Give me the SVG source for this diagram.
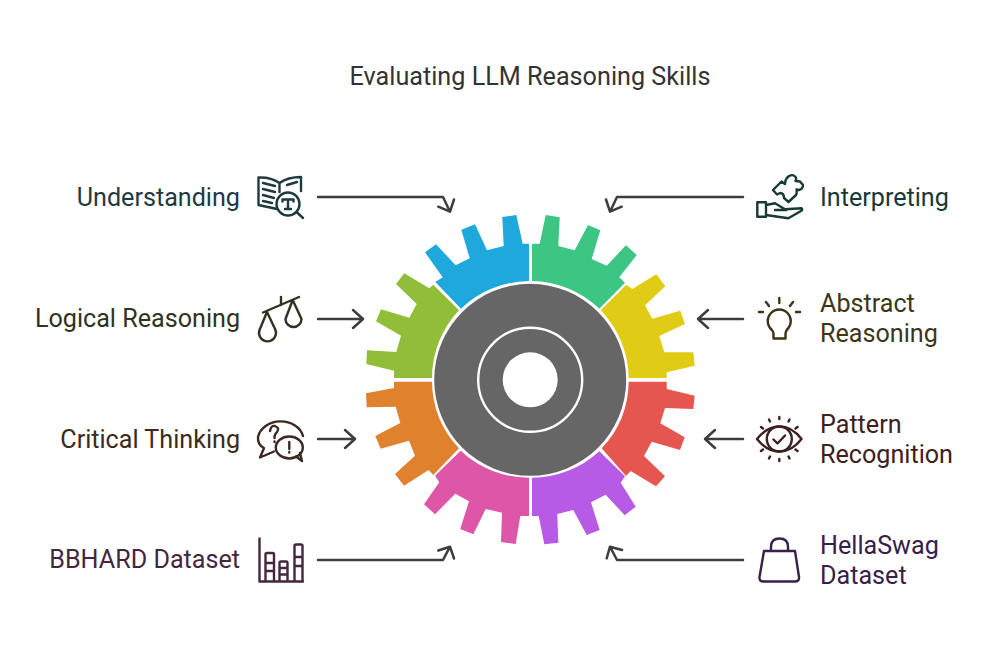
<svg xmlns="http://www.w3.org/2000/svg" width="1000" height="652" viewBox="0 0 1000 652">
<style>
text{font-family:Roboto,"Liberation Sans",sans-serif;font-size:25.15px}
.end{text-anchor:end}
.title{font-size:25.2px;fill:#333;text-anchor:middle}
.conn{fill:none;stroke:#3d3d3d;stroke-width:2.5;stroke-linecap:round;stroke-linejoin:round}
.i{fill:none;stroke-width:2.4;stroke-linecap:round;stroke-linejoin:round}
</style>
<rect width="1000" height="652" fill="#fff"/>
<text id="title" class="title" x="530" y="85">Evaluating LLM Reasoning Skills</text>
<g id="gear">
<path id="seg-understanding" fill="#1fa8dc" d="M529 281V243.7H522.7L516.3 215L502.3 217L503.7 246L487 250.3L475 224.3L461.3 229.7L469.7 258.3L455.7 265.3L436 244.3L425 252.3L442.7 277.3L435.3 282L461 308.7A99 99 0 0 1 529 281Z"/>
<path id="seg-interpreting" fill="#3cc583" d="M532 281V243.7H539.7L545.7 215L559.7 217.3L558.3 246L574.7 250.3L588 225L600.3 230.3L591.7 259L606.7 265.7L626 245.3L636.7 255L619.3 277.3L625 282.7L599.3 308.7A99 99 0 0 0 532 281Z"/>
<path id="seg-abstract" fill="#e0cb15" d="M600.7 310.3L626.3 284.7L632.3 289L656.3 274.3L665.3 286.3L645 305.3L652.3 318.7L680.3 310.7L685 324L659.3 336L664.3 352.3L693.3 352.3L694.7 365.7L666.7 372.3V378H628.7A99 99 0 0 0 600.7 310.3Z"/>
<path id="seg-pattern" fill="#e65650" d="M628.7 381.7H666.7V389L694.7 395.7L693.3 409L665 408L660.3 423.3L684.7 437.3L680 450L651.7 441.7L644 456L665 476.3L656 486.3L630.7 471L626 476L601.7 448.3A99 99 0 0 0 628.7 381.7Z"/>
<path id="seg-hellaswag" fill="#b75ae5" d="M599.3 451.3L625 476.3L620.7 482.7L635.7 506.7L624.7 515.3L605.7 494.7L591 502.3L599.7 530L586.7 535L573.3 510L557.3 514L558.3 542.7L544.3 544.3L538.7 516H532V477.7A99 99 0 0 0 599.3 451.3Z"/>
<path id="seg-bbhard" fill="#de56a8" d="M529 477.7V516H520.3L515.7 544L501 542L502 512.7L485.7 509L473.3 534.3L460.3 529L469 501.3L455.3 493.7L435 514.3L424 504.3L439.3 482.3L435 475.7L460.7 450.7A99 99 0 0 0 529 477.7Z"/>
<path id="seg-critical" fill="#e0812e" d="M459 448.3L433.3 475L428.7 470L404 485.7L395 474L415 455.7L409 440.7L380.7 448.7L375.3 436L400.3 423L395.7 406.7L366.7 407.3L366 393.3L394 388V381.7H432A99 99 0 0 0 459 448.3Z"/>
<path id="seg-logical" fill="#92bd39" d="M432 378H394V370.7L366.3 364L367 350.3L396.3 352L401 335.7L376 321.3L381 309.3L409.3 317.7L416.7 304L396 284L404.3 273.3L429.3 288.3L433.3 284.7L459 310.3A99 99 0 0 0 432 378Z"/>
<circle id="hub" cx="530.2" cy="379.8" r="96" fill="#666"/>
<circle cx="530.2" cy="379.8" r="52" fill="none" stroke="#fff" stroke-width="2.4"/>
<circle cx="530.2" cy="379.8" r="27.5" fill="#fff"/>
</g>
<g id="connectors" class="conn">
<path d="M318 197H443L450 211.700M438.300 206.700L450 211.700L454 199.500"/>
<path d="M318 319H363M353 310L363 319L353 328"/>
<path d="M318 439H355M345 430L355 439L345 448"/>
<path d="M318 560H443L450 546.700M438.300 550.500L450 546.700L454 558.500"/>
<path d="M743 197H617L610 211.700M621.700 206.700L610 211.700L606 199.500"/>
<path d="M743 319H698M708 310L698 319L708 328"/>
<path d="M743 439H705M715 430L705 439L715 448"/>
<path d="M743 560H617L610 546.700M622 550L610 546.700L606.700 558.300"/>
</g>
<g id="node-understanding">
<text class="end" x="240" y="206" fill="#1f3a3f">Understanding</text>
<g class="i" stroke="#1f3a3f"><path d="M277 209L258.500 205V177.500Q271 177 279.500 183Q288 177 301 177V191M279.500 183V192M263 183L275 186M263 189L275 192M263 195L274 198M263 201L272 203M287 185L297 182"/><circle cx="288" cy="204" r="11.500"/><path d="M296.500 212L303 218M282.500 199.500H293.500M282.500 201.500V199.500M293.500 201.500V199.500M288 199.500V209M285 209H291"/></g>
</g>
<g id="node-logical">
<text class="end" x="240" y="327" fill="#2f3320">Logical Reasoning</text>
<g class="i" stroke="#2f3320"><path d="M263 312.500L299 297M281 297V305M267 312L259.500 330A8.500 8.500 0 1 0 275.500 330ZM292.700 300L285.500 319A8 8 0 1 0 301.500 319Z"/></g>
</g>
<g id="node-critical">
<text class="end" x="240" y="448" fill="#3b2a20">Critical Thinking</text>
<g class="i" stroke="#3b2a20"><path d="M303 436A23 19 0 0 0 258 437Q257.500 445 264 448L260 457.500L274 451.500"/><ellipse cx="289.300" cy="447.500" rx="13.500" ry="11"/><path d="M296 456.500L302 461L300 453M270 431Q271 425 275 426Q280 428 277 432Q274 435 274.500 438M274.500 441.500V442M289.300 442V449M289.300 452V452.500"/></g>
</g>
<g id="node-bbhard">
<text class="end" x="240" y="568" fill="#44263f">BBHARD Dataset</text>
<g class="i" stroke="#44263f"><path d="M259.500 538.500V581.500H303M265.500 581V554.500Q265.500 553 267 553H272.500Q274 553 274 554.500V581M265.500 563H274M265.500 571H274M279.500 581V563Q279.500 561.500 281 561.500H286Q287.500 561.500 287.500 563V581M279.500 568H287.500M279.500 574.500H287.500M294.500 581V546Q294.500 544.500 296 544.500H301Q302.500 544.500 302.500 546V581M294.500 557H302.500M294.500 566H302.500"/></g>
</g>
<g id="node-interpreting">
<text x="820" y="206" fill="#173a36">Interpreting</text>
<g class="i" stroke="#173a36"><path d="M757.300 202.300H766V216.700H757.300ZM766 205L775 203.300L785 209.300L801.700 208.300Q803 209.500 801 211L788.300 218.300L766 215M775 210H786.700M773 190L781.500 181.500L785 184Q785 179 789 176Q793 174 795 176.500Q797 178 795.500 181L800 181.500L803 185Q803 189 799 190L796.500 189.500Q797 193 796 195L788.500 202L784 198Q784 193 780 193L777 194.500Z"/></g>
</g>
<g id="node-abstract">
<text x="820" y="311.500" fill="#3d3515">Abstract</text>
<text x="820" y="341.500" fill="#3d3515">Reasoning</text>
<g class="i" stroke="#3d3515"><path d="M773.500 338.500H785.500V333.500Q786 331 787 329.500A11.500 11.500 0 1 0 771.500 329.500Q773 331 773.500 333.500ZM779.300 298V303M766 302L769 306M793 302L790 306M759 312H763M796 312H800"/></g>
</g>
<g id="node-pattern">
<text x="820" y="432.500" fill="#3d2020">Pattern</text>
<text x="820" y="462.500" fill="#3d2020">Recognition</text>
<g class="i" stroke="#3d2020"><path d="M757 439Q767 426.500 779.300 426.500Q792 426.500 801.500 439Q792 451.500 779.300 451.500Q767 451.500 757 439ZM773.500 439.500L777.500 443.500L785 435.500M779.300 417V419M769 419.500L770 421.500M789.500 419.500L788.500 421.500M761 427L763 428.500M797.500 427L795.500 428.500M779.300 459V461M769 458.500L770 456.500M789.500 458.500L788.500 456.500M761 451L763 449.500M797.500 451L795.500 449.500"/><circle cx="779.300" cy="439" r="12.500"/></g>
</g>
<g id="node-hellaswag">
<text x="820" y="554" fill="#37204a">HellaSwag</text>
<text x="820" y="584" fill="#37204a">Dataset</text>
<g class="i" stroke="#37204a"><path d="M764 551H795L799 577Q799.500 581.500 795 581.500H763.500Q759 581.500 759.500 577ZM771 551V547Q771 538.500 779.500 538.500Q788 538.500 788 547V551"/></g>
</g>
</svg>
